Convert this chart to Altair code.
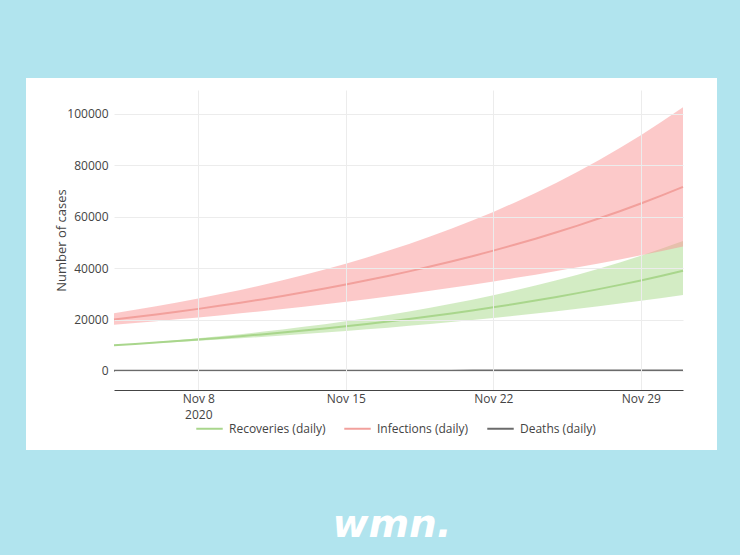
import altair as alt
import pandas as pd

dates = [d.strftime("%Y-%m-%d") for d in pd.date_range("2020-11-04", periods=28)]

inf_mid = [20000, 20970, 21980, 23040, 24160, 25330, 26550, 27840, 29190, 30600,
           32080, 33630, 35260, 36960, 38750, 40630, 42590, 44650, 46810, 49080,
           51450, 53940, 56560, 59290, 62160, 65170, 68330, 71630]
inf_hi = [22500, 23800, 25180, 26630, 28170, 29800, 31520, 33350, 35270, 37310,
          39470, 41750, 44170, 46720, 49420, 52280, 55300, 58500, 61880, 65460,
          69240, 73250, 77480, 81960, 86700, 91710, 97020, 102630]
inf_lo = [18000, 18670, 19370, 20090, 20840, 21620, 22430, 23260, 24130, 25030,
          25970, 26940, 27940, 28990, 30070, 31190, 32360, 33570, 34820, 36120,
          37470, 38870, 40320, 41830, 43390, 45010, 46690, 48430]
rec_mid = [10000, 10520, 11060, 11630, 12230, 12860, 13530, 14230, 14960, 15730,
           16540, 17400, 18300, 19240, 20240, 21280, 22380, 23540, 24750, 26030,
           27380, 28790, 30280, 31840, 33490, 35220, 37040, 38950]
rec_hi = [10000, 10620, 11280, 11970, 12710, 13500, 14330, 15220, 16160, 17160,
          18220, 19350, 20550, 21820, 23170, 24600, 26120, 27740, 29450, 31280,
          33210, 35260, 37440, 39760, 42220, 44830, 47600, 50550]
rec_lo = [10000, 10410, 10840, 11280, 11740, 12230, 12730, 13250, 13790, 14360,
          14950, 15560, 16200, 16860, 17550, 18270, 19020, 19800, 20610, 21460,
          22340, 23260, 24210, 25200, 26230, 27310, 28430, 29590]
dea_mid = [60, 63, 66, 70, 73, 77, 81, 85, 89, 93, 98, 103, 108, 114, 119, 125,
           132, 138, 145, 153, 160, 168, 177, 186, 195, 205, 215, 226]
dea_hi = [60, 64, 69, 74, 79, 85, 91, 97, 104, 112, 120, 128, 137, 147, 158, 169,
          181, 194, 208, 223, 239, 256, 274, 294, 315, 337, 361, 387]
dea_lo = [60, 62, 64, 66, 68, 70, 72, 75, 77, 79, 82, 84, 87, 90, 93, 96, 99, 102,
          105, 108, 112, 115, 119, 123, 127, 131, 135, 140]

series = ["Recoveries (daily)", "Infections (daily)", "Deaths (daily)"]
line_colors = ["#a9d68c", "#f2a09c", "#6b6b6b"]
band_colors = ["#a8d98a", "#f99393", "#9a9a9a"]
y_ticks = [0, 20000, 40000, 60000, 80000, 100000]

rows = []
for name, mid, lo, hi in [(series[0], rec_mid, rec_lo, rec_hi),
                          (series[1], inf_mid, inf_lo, inf_hi),
                          (series[2], dea_mid, dea_lo, dea_hi)]:
    for d, m, l, h in zip(dates, mid, lo, hi):
        rows.append({"date": d, "series": name, "mid": m, "lo": l, "hi": h})
df = pd.DataFrame(rows)

W, H = 569, 300
ydom = [-7400, 109300]

xenc = alt.X("date:T", scale=alt.Scale(type="utc", nice=False),
             axis=alt.Axis(
                 values=[alt.DateTime(year=2020, month=11, date=d, utc=True) for d in [8, 15, 22, 29]],
                 labelExpr="utcdate(datum.value) == 8 ? ['Nov 8', '2020'] : utcFormat(datum.value, '%b %-d')",
                 title=None, ticks=False, labelPadding=3, grid=True, gridColor="#ececec",
                 domain=True, domainColor="#444444", domainWidth=1,
                 labelColor="#444444", labelFontSize=12, labelFont="Open Sans",
                 labelLineHeight=16, zindex=1))

yaxis = alt.Axis(values=y_ticks, format="d", title="Number of cases",
                 ticks=False, domain=False, labelPadding=6,
                 gridColor="#ececec", labelColor="#444444",
                 labelFontSize=12, labelFont="Open Sans",
                 titleFont="Open Sans", titleFontSize=13,
                 titleFontWeight="normal", titleColor="#444444",
                 titleX=-53, titleY=150, titleAngle=270,
                 titleAlign="center", titleBaseline="middle", zindex=1)
yscale = alt.Scale(domain=ydom, nice=False, zero=False)

base = alt.Chart(df)

panel = alt.Chart(pd.DataFrame({"a": [0]})).mark_rect(color="white").encode(
    x=alt.value(-88), x2=alt.value(603), y=alt.value(-12), y2=alt.value(360))

logo = alt.Chart(pd.DataFrame({"t": ["wmn."]})).mark_text(
    font="DejaVu Sans", fontSize=39, fontWeight="bold", fontStyle="italic", color="white",
    align="center", baseline="middle").encode(
    text="t:N", x=alt.value(278), y=alt.value(435))

band_layers = []
for name, col in zip(series, band_colors):
    band_layers.append(
        base.transform_filter(alt.datum.series == name).mark_area(color=col, opacity=0.5).encode(
            x=xenc,
            y=alt.Y("lo:Q", scale=yscale, axis=yaxis),
            y2="hi:Q",
        )
    )

zero = alt.Chart(pd.DataFrame({"z": [0]})).mark_rule(color="#5e5e5e", strokeWidth=2).encode(
    y=alt.Y("z:Q", scale=yscale))

lines = base.mark_line(strokeWidth=2).encode(
    x=xenc,
    y=alt.Y("mid:Q", scale=yscale),
    color=alt.Color("series:N", scale=alt.Scale(domain=series, range=line_colors),
                    legend=alt.Legend(title=None, orient="none", direction="horizontal",
                                      legendX=81, legendY=324, symbolType="stroke",
                                      symbolSize=700, symbolStrokeWidth=2,
                                      labelFontSize=12, labelFont="Open Sans",
                                      labelColor="#444444", columnPadding=14,
                                      padding=0, labelOffset=5, zindex=1)),
)

chart = alt.layer(panel, logo, *band_layers, zero, lines).properties(
    width=W, height=H, background="#b1e4ee",
    padding={"left": 114, "top": 90, "right": 57, "bottom": 165},
    autosize=alt.AutoSizeParams(type="none"),
).configure_view(stroke=None)

chart.save("out.html", embed_options={"renderer": "svg", "actions": False})
